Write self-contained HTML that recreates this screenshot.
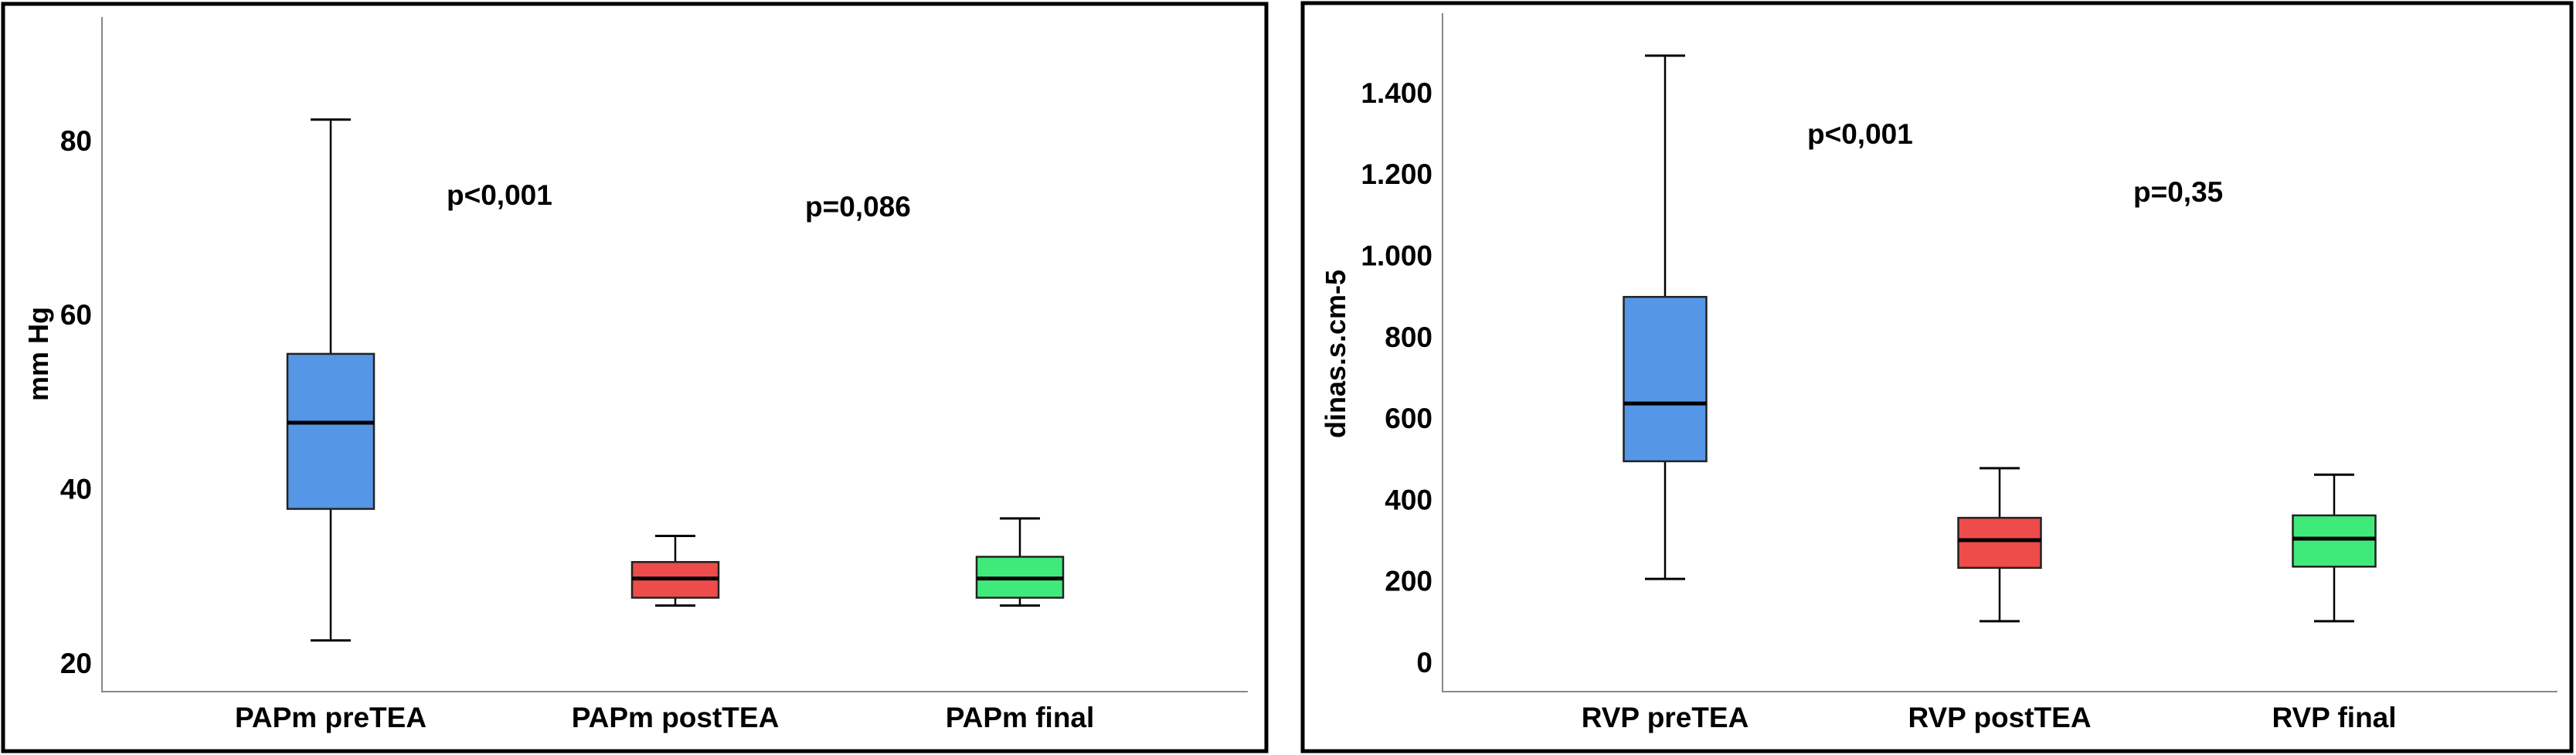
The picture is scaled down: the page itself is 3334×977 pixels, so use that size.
<!DOCTYPE html>
<html><head><meta charset="utf-8"><style>
body{margin:0;background:#fff}
svg{display:block}
.t{font-family:"Liberation Sans Narrow","Liberation Sans",sans-serif;font-weight:bold;font-size:37px;fill:#000}
.yl{font-family:"Liberation Sans",sans-serif;font-weight:bold;font-size:36px;fill:#000}
</style></head><body>
<svg id="s" width="3334" height="977" xmlns="http://www.w3.org/2000/svg">
<rect x="4" y="5" width="1635" height="967" fill="none" stroke="#000" stroke-width="5"/>
<rect x="1686" y="4" width="1642" height="968" fill="none" stroke="#000" stroke-width="5"/>
</svg>
<script>
const papCategories=["PAPm preTEA","PAPm postTEA","PAPm final"];
const papStats=[[22.6,37.7,47.6,55.5,82.4],[26.6,27.5,29.7,31.6,34.6],[26.6,27.5,29.7,32.2,36.6]];
const papTicks=[20,40,60,80];
const papTickLabels=["20","40","60","80"];
const papPvals=["p<0,001","p=0,086"];
const rvpCategories=["RVP preTEA","RVP postTEA","RVP final"];
const rvpStats=[[205,494,636,898,1491],[101,232,300,355,477],[101,235,304,361,461]];
const rvpTicks=[0,200,400,600,800,1000,1200,1400];
const rvpTickLabels=["0","200","400","600","800","1.000","1.200","1.400"];
const rvpPvals=["p<0,001","p=0,35"];
const colors=["#5596e6","#ee4b4b","#40ea7a"];
const NS="http://www.w3.org/2000/svg";
const svg=document.getElementById('s');
function mk(tag,attrs,txt){const e=document.createElementNS(NS,tag);for(const k in attrs)e.setAttribute(k,attrs[k]);if(txt!==undefined)e.textContent=txt;svg.appendChild(e);return e;}
function panel(p){
  const y=v=>p.y0+(v-p.v0)*p.k;
  const ax=mk('path',{d:`M${p.ax},${p.top}V${p.base}H${p.axEnd}`,fill:'none',stroke:'#888','stroke-width':2});
  
  
  p.ticks.forEach((v,i)=>{
    const t=mk('text',{x:p.ax-13,y:y(v)+13,'text-anchor':'end',class:'t'},p.tickLabels[i]);
    
    
  });
  const yl=mk('text',{x:p.ylx,y:458,transform:`rotate(-90 ${p.ylx} 458)`,'text-anchor':'middle',class:'yl'},p.ylabel);
  
  
  p.cats.forEach((c,i)=>{
    const cx=p.cx[i],s=p.stats[i],hw=p.bw/2;
    const g=document.createElementNS(NS,'g');svg.appendChild(g);
    
    
    const add=(tag,a)=>{const e=document.createElementNS(NS,tag);for(const k in a)e.setAttribute(k,a[k]);g.appendChild(e);};
    add('line',{x1:cx,x2:cx,y1:y(s[0]),y2:y(s[4]),stroke:'#000','stroke-width':2.5});
    add('line',{x1:cx-26,x2:cx+26,y1:y(s[4]),y2:y(s[4]),stroke:'#000','stroke-width':3});
    add('line',{x1:cx-26,x2:cx+26,y1:y(s[0]),y2:y(s[0]),stroke:'#000','stroke-width':3});
    add('rect',{x:cx-hw,y:y(s[3]),width:p.bw,height:y(s[1])-y(s[3]),fill:colors[i],stroke:'#222','stroke-width':2.5});
    add('line',{x1:cx-hw,x2:cx+hw,y1:y(s[2]),y2:y(s[2]),stroke:'#000','stroke-width':5});
    const t=mk('text',{x:cx,y:941,'text-anchor':'middle',class:'t'},c);
    
    
  });
  p.pvals.forEach((v,i)=>{
    const t=mk('text',{x:p.px[i],y:p.py[i]+13,class:'t'},v);
    
    
  });
}
panel({id:'papm',ax:132,top:22,base:895,axEnd:1615,v0:20,y0:858,k:-11.27,ticks:papTicks,tickLabels:papTickLabels,
  ylx:62,ylabel:'mm Hg',cats:papCategories,stats:papStats,cx:[428,874,1320],bw:112,pvals:papPvals,px:[578,1042],py:[252,267]});
panel({id:'rvp',ax:1867,top:17,base:895,axEnd:3310,v0:0,y0:857,k:-0.5265,ticks:rvpTicks,tickLabels:rvpTickLabels,
  ylx:1741,ylabel:'dinas.s.cm-5',cats:rvpCategories,stats:rvpStats,cx:[2155,2588,3021],bw:107,pvals:rvpPvals,px:[2339,2761],py:[173,248]});
</script>
</body></html>
